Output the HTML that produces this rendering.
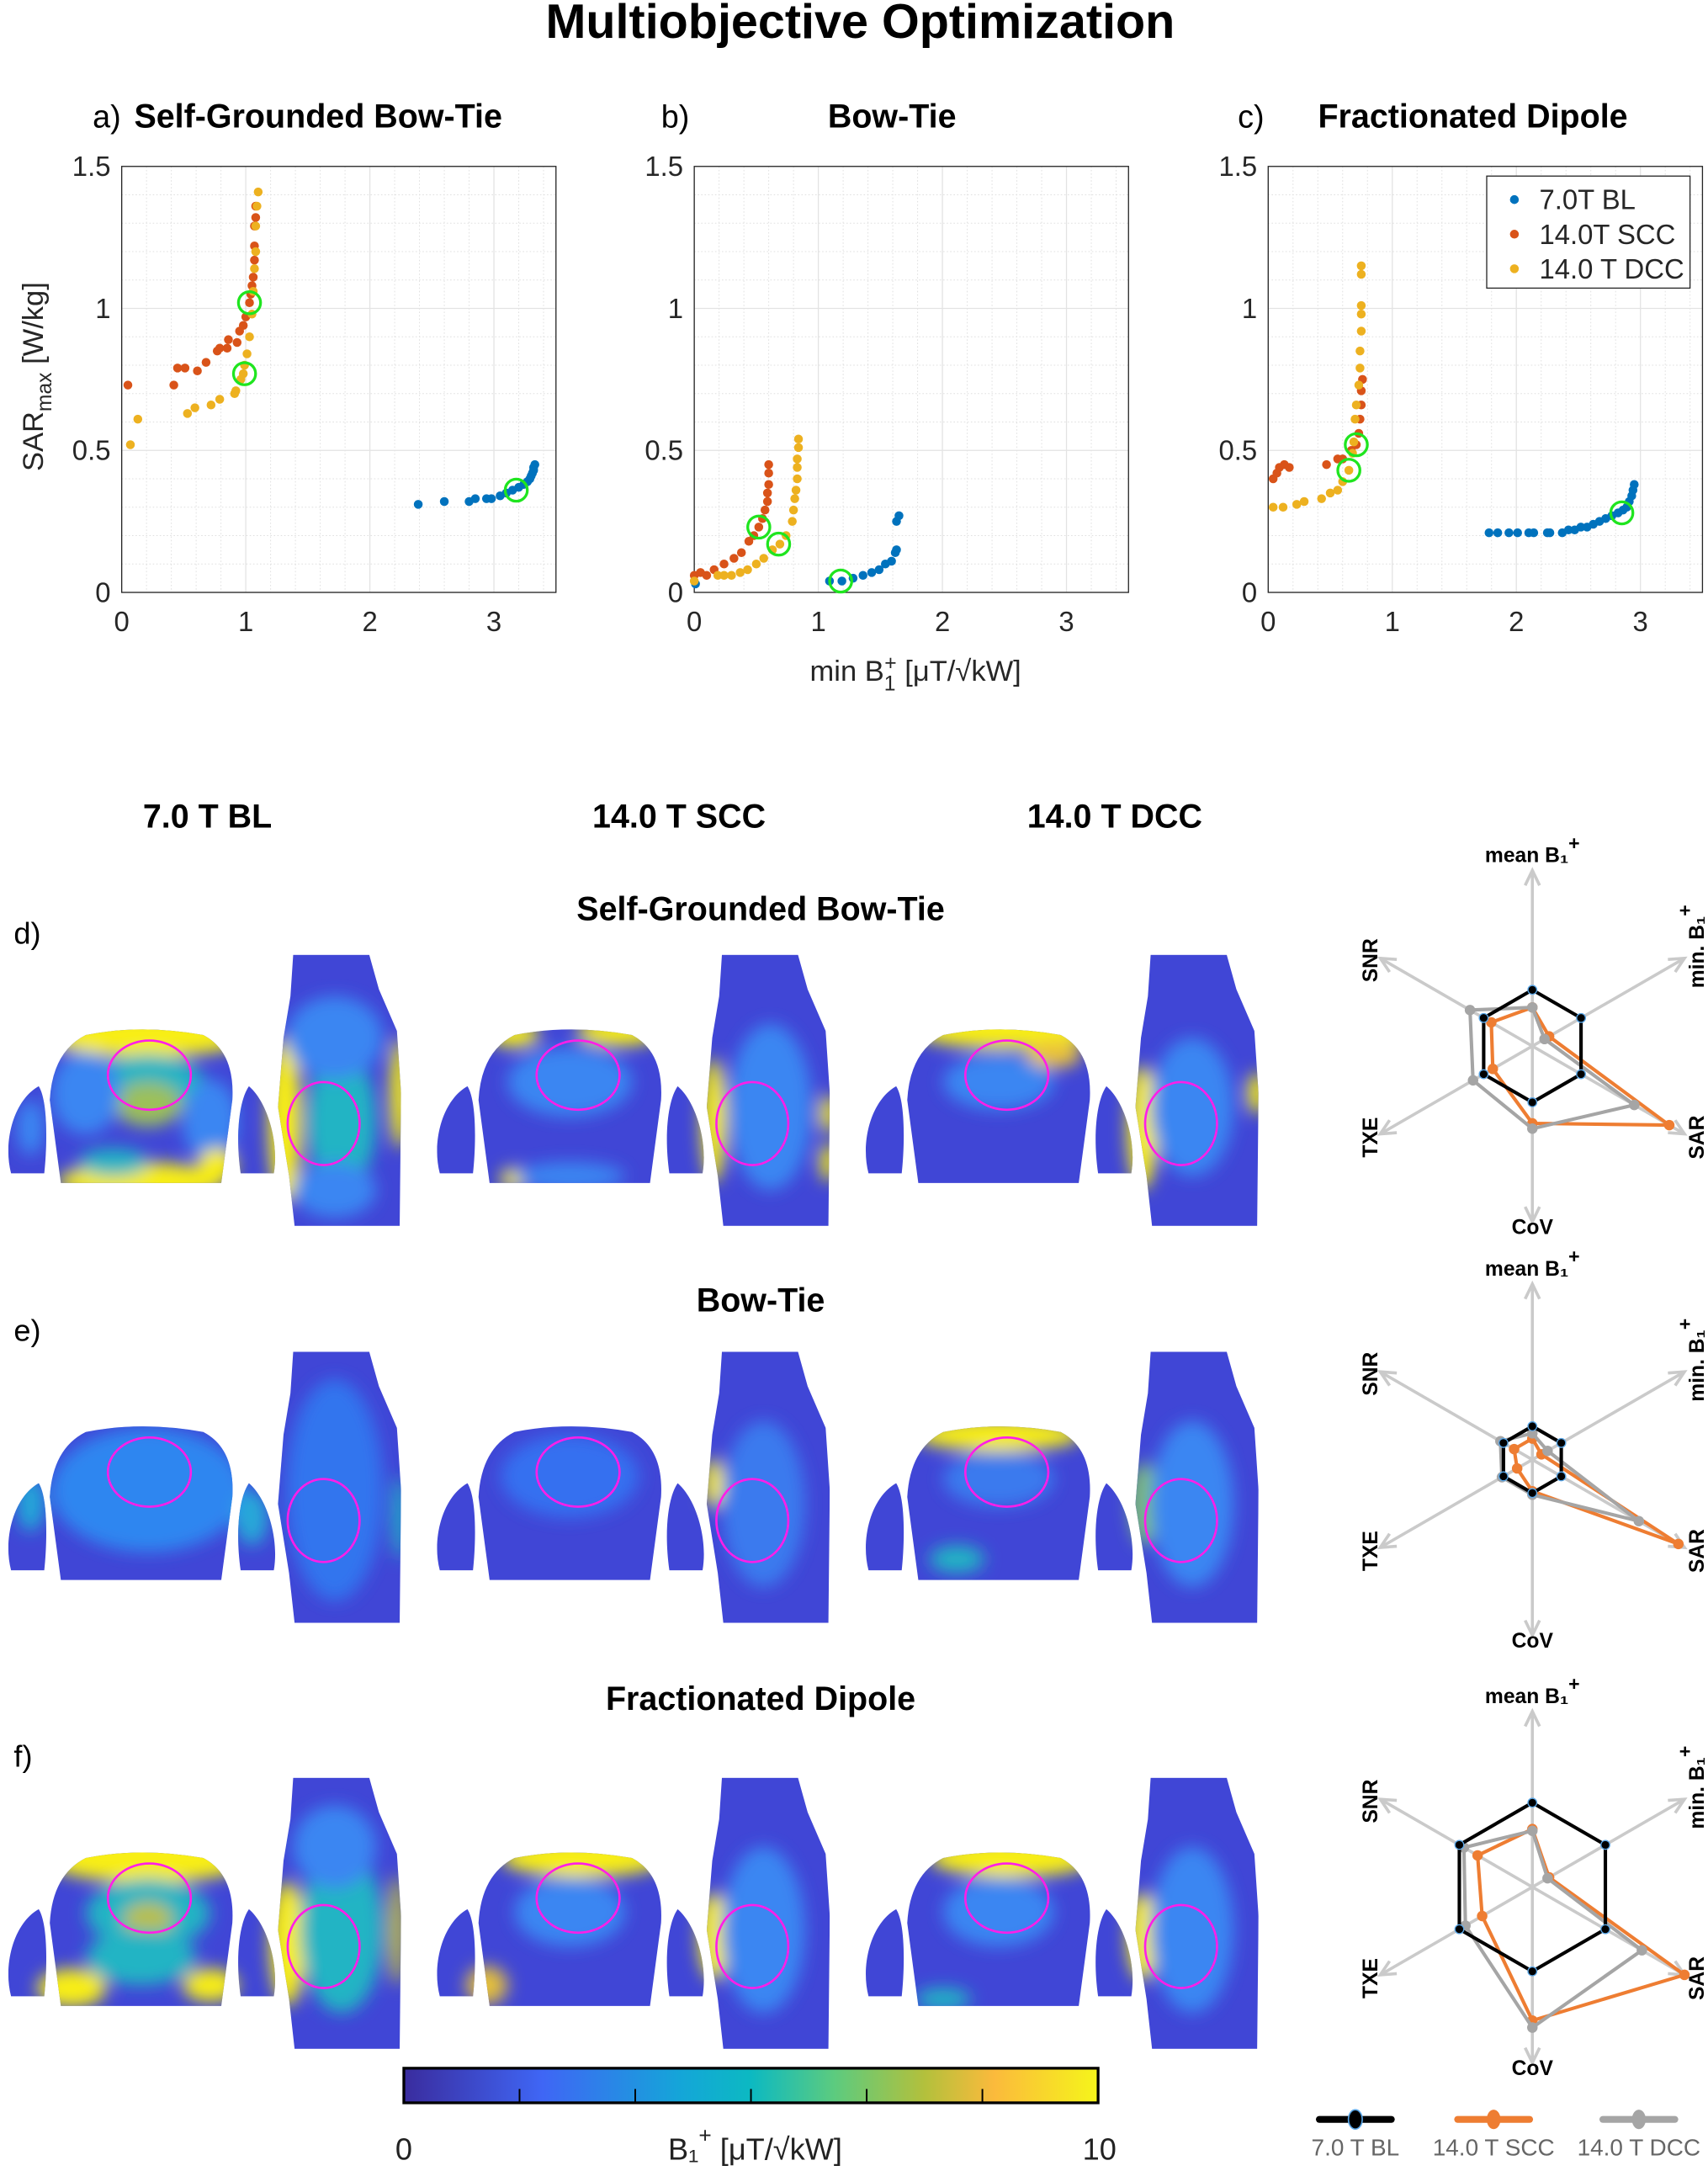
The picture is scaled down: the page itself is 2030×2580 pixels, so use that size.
<!DOCTYPE html>
<html><head><meta charset="utf-8">
<style>
html,body{margin:0;padding:0;background:#fff;}
svg{display:block;font-family:"Liberation Sans",Arial,sans-serif;}
</style></head>
<body>
<svg id="fig" xmlns="http://www.w3.org/2000/svg" width="2030" height="2580" viewBox="0 0 1235 1569">
<defs>
<filter id="blur" x="-20%" y="-20%" width="140%" height="140%"><feGaussianBlur stdDeviation="6"/></filter>
<linearGradient id="parula" x1="0" x2="1" y1="0" y2="0">
<stop offset="0" stop-color="#3a2c9e"/><stop offset="0.2" stop-color="#3f66f5"/><stop offset="0.4" stop-color="#14a6d8"/><stop offset="0.5" stop-color="#0cb9c2"/><stop offset="0.62" stop-color="#5ccb7f"/><stop offset="0.75" stop-color="#b3c03c"/><stop offset="0.85" stop-color="#fbba3c"/><stop offset="1" stop-color="#f5f51a"/>
</linearGradient>
</defs>
<text x="622" y="27" text-anchor="middle" font-size="35" font-weight="bold">Multiobjective Optimization</text>
<g id="scatter"></g>
<g id="maps"></g>
<g id="radars"></g>
</svg>
<script>
var NS="http://www.w3.org/2000/svg";
function mk(tag,attrs,parent){var e=document.createElementNS(NS,tag);for(var k in attrs)e.setAttribute(k,attrs[k]);if(parent)parent.appendChild(e);return e;}

// ---------- scatter data ----------
var xTicks=[0,1,2,3];
var yTicks=[0,0.5,1,1.5];
var yTickLabels=["0","0.5","1","1.5"];
var panelTitles=["Self-Grounded Bow-Tie","Bow-Tie","Fractionated Dipole"];
var panelLetters=["a)","b)","c)"];
var seriesNames=["7.0T BL","14.0T SCC","14.0 T DCC"];
// panel a
var aBLx=[2.39,2.6,2.8,2.85,2.94,2.98,3.05,3.1,3.15,3.2,3.24,3.27,3.29,3.3,3.31,3.32,3.32,3.33];
var aBLy=[0.31,0.32,0.32,0.33,0.33,0.33,0.34,0.35,0.36,0.37,0.38,0.39,0.40,0.41,0.42,0.43,0.44,0.45];
var aSCCx=[0.05,0.42,0.45,0.51,0.61,0.68,0.77,0.79,0.85,0.86,0.93,0.95,0.98,1.0,1.03,1.04,1.05,1.06,1.07,1.07,1.07,1.08,1.08];
var aSCCy=[0.73,0.73,0.79,0.79,0.78,0.81,0.85,0.86,0.86,0.89,0.88,0.92,0.94,0.97,1.02,1.05,1.08,1.11,1.17,1.22,1.29,1.32,1.36];
var aDCCx=[0.07,0.13,0.53,0.59,0.72,0.79,0.91,0.92,0.96,0.98,0.99,1.01,1.03,1.05,1.06,1.07,1.08,1.08,1.09,1.10];
var aDCCy=[0.52,0.61,0.63,0.65,0.66,0.68,0.70,0.71,0.75,0.77,0.80,0.84,0.90,0.98,1.06,1.14,1.20,1.29,1.36,1.41];
var aSelX=[1.03,0.99,3.18];
var aSelY=[1.02,0.77,0.36];
// panel b
var bBLx=[0.01,1.09,1.19,1.28,1.36,1.43,1.49,1.54,1.59,1.62,1.63,1.63,1.65];
var bBLy=[0.03,0.04,0.04,0.05,0.06,0.07,0.08,0.10,0.11,0.14,0.15,0.25,0.27];
var bSCCx=[0,0.05,0.1,0.16,0.24,0.32,0.38,0.44,0.48,0.52,0.55,0.57,0.59,0.59,0.6,0.6,0.6];
var bSCCy=[0.06,0.07,0.06,0.08,0.10,0.12,0.14,0.18,0.20,0.23,0.26,0.29,0.32,0.35,0.38,0.42,0.45];
var bDCCx=[0,0.19,0.24,0.3,0.37,0.43,0.5,0.56,0.63,0.69,0.74,0.79,0.8,0.81,0.82,0.83,0.83,0.83,0.84,0.84];
var bDCCy=[0.04,0.06,0.06,0.06,0.07,0.08,0.10,0.12,0.15,0.17,0.20,0.25,0.29,0.33,0.36,0.40,0.44,0.47,0.51,0.54];
var bSelX=[0.52,0.68,1.18];
var bSelY=[0.23,0.17,0.04];
// panel c
var cBLx=[1.78,1.85,1.94,2.01,2.1,2.14,2.25,2.27,2.37,2.42,2.47,2.52,2.57,2.62,2.67,2.72,2.77,2.82,2.86,2.89,2.91,2.93,2.94,2.95];
var cBLy=[0.21,0.21,0.21,0.21,0.21,0.21,0.21,0.21,0.21,0.22,0.22,0.23,0.23,0.24,0.25,0.26,0.27,0.28,0.29,0.30,0.32,0.34,0.36,0.38];
var cSCCx=[0.04,0.07,0.09,0.13,0.17,0.47,0.56,0.6,0.67,0.71,0.73,0.74,0.75,0.75,0.76];
var cSCCy=[0.40,0.42,0.44,0.45,0.44,0.45,0.47,0.47,0.50,0.52,0.56,0.61,0.66,0.71,0.75];
var cDCCx=[0.04,0.12,0.23,0.29,0.43,0.5,0.56,0.6,0.65,0.68,0.69,0.70,0.71,0.73,0.74,0.74,0.75,0.75,0.75,0.75,0.75];
var cDCCy=[0.30,0.30,0.31,0.32,0.33,0.35,0.36,0.39,0.43,0.49,0.53,0.61,0.66,0.73,0.79,0.85,0.92,0.98,1.01,1.12,1.15];
var cSelX=[0.71,0.65,2.85];
var cSelY=[0.52,0.43,0.28];

var panels=[
 {x0:88,bl:[aBLx,aBLy],scc:[aSCCx,aSCCy],dcc:[aDCCx,aDCCy],sel:[aSelX,aSelY],lx:67,tx:97,anchor:'start'},
 {x0:502,bl:[bBLx,bBLy],scc:[bSCCx,bSCCy],dcc:[bDCCx,bDCCy],sel:[bSelX,bSelY],lx:478,tx:645,anchor:'middle'},
 {x0:917,bl:[cBLx,cBLy],scc:[cSCCx,cSCCy],dcc:[cDCCx,cDCCy],sel:[cSelX,cSelY],lx:895,tx:953,anchor:'start'}
];
var PW=314,PT=120,PB=428,XMAX=3.5,YMAX=1.5;
var colBL="#0072BD",colSCC="#D95319",colDCC="#EDB120";
var sc=document.getElementById('scatter');
panels.forEach(function(p,i){
  function X(v){return p.x0+v/XMAX*PW;}
  function Y(v){return PB-v/YMAX*(PB-PT);}
  var g=mk('g',{},sc);
  
  
  var t=mk('text',{x:p.lx,y:92,'font-size':23},g);
  
  
  t.textContent=panelLetters[i];
  var tb=mk('text',{x:p.tx,y:92,'font-size':24,'font-weight':'bold','text-anchor':p.anchor},g);
  
  
  tb.textContent=panelTitles[i];
  for(var v=0.2;v<XMAX;v+=0.2){ if(Math.abs(v-Math.round(v))<0.01)continue;
    var l=mk('line',{x1:X(v),x2:X(v),y1:PT,y2:PB,stroke:'#e0e0e0','stroke-width':0.6,'stroke-dasharray':'1,1.5'},g);
    }
  for(var v=0.1;v<YMAX;v+=0.1){ if(Math.abs(v*2-Math.round(v*2))<0.01)continue;
    var l=mk('line',{x1:p.x0,x2:p.x0+PW,y1:Y(v),y2:Y(v),stroke:'#e0e0e0','stroke-width':0.6,'stroke-dasharray':'1,1.5'},g);
    }
  xTicks.forEach(function(v){
    var l=mk('line',{x1:X(v),x2:X(v),y1:PT,y2:PB,stroke:'#e3e3e3','stroke-width':0.8},g);
    
    var tk=mk('text',{x:X(v),y:PB+28,'font-size':20,'text-anchor':'middle',fill:'#262626'},g);
    
    tk.textContent=v;
  });
  yTicks.forEach(function(v,k){
    var l=mk('line',{x1:p.x0,x2:p.x0+PW,y1:Y(v),y2:Y(v),stroke:'#e3e3e3','stroke-width':0.8},g);
    
    var tk=mk('text',{x:p.x0-8,y:Y(v)+7,'font-size':20,'text-anchor':'end',fill:'#262626'},g);
    
    tk.textContent=yTickLabels[k];
  });
  var box=mk('rect',{x:p.x0,y:PT,width:PW,height:PB-PT,fill:'none',stroke:'#262626','stroke-width':0.8},g);
  
  [[p.bl,colBL,'series-7T-BL'],[p.scc,colSCC,'series-14T-SCC'],[p.dcc,colDCC,'series-14T-DCC']].forEach(function(s){
    var sg=mk('g',{fill:s[1]},g);
    
    s[0][0].forEach(function(xv,j){
      var c=mk('circle',{cx:X(xv),cy:Y(s[0][1][j]),r:3.2},sg);
      
    });
  });
  p.sel[0].forEach(function(xv,j){
    var c=mk('circle',{cx:X(xv),cy:Y(p.sel[1][j]),r:8,fill:'none',stroke:'#1fe51f','stroke-width':2},g);
    
  });
});
(function(){
  var yl=mk('text',{transform:'translate(31,272) rotate(-90)','font-size':21,'text-anchor':'middle',fill:'#262626'},sc);
  
  yl.innerHTML='SAR<tspan font-size="15" dy="6">max</tspan><tspan dy="-6"> [W/kg]</tspan>';
  var xl=mk('text',{x:662,y:492,'font-size':21,'text-anchor':'middle',fill:'#262626'},sc);
  
  xl.innerHTML='min B<tspan font-size="15" dy="7">1</tspan><tspan font-size="15" dx="-8" dy="-15">+</tspan><tspan dy="8"> [μT/√kW]</tspan>';
  var lg=mk('g',{},sc);
  
  mk('rect',{x:1075,y:127,width:147,height:81,fill:'#fff',stroke:'#262626','stroke-width':0.8},lg);
  [colBL,colSCC,colDCC].forEach(function(c,k){
    var e=mk('g',{},lg);
    
    mk('circle',{cx:1095,cy:144+k*25,r:3.2,fill:c},e);
    var t=mk('text',{x:1113,y:151+k*25,'font-size':20,fill:'#262626'},e);
    t.textContent=seriesNames[k];
  });
})();

// ---------- B1 maps ----------
var Y_='#f8ee12',C_='#22b4c4',L_='#3a86f2',G_='#9cc05a';
var colLabels=["7.0 T BL","14.0 T SCC","14.0 T DCC"];
var colLabelX=[150,491,806];
var rowTitles=["Self-Grounded Bow-Tie","Bow-Tie","Fractionated Dipole"];
var rowLetters=["d)","e)","f)"];
var rowY=[690,977,1285];
var rowTitleY=[665,948,1236];
var groupX=[0,310,620];
var blobs=[
 [[[105,58,75,16,Y_],[105,92,40,20,C_],[105,108,25,16,G_],[60,100,25,30,L_],[150,120,20,30,L_],[100,164,60,14,Y_],[80,150,25,10,C_],[155,152,14,12,Y_],[20,125,10,20,L_],[204,120,12,60,Y_],[245,120,25,50,C_],[240,60,35,30,L_],[287,100,7,40,Y_],[240,170,30,20,L_]],
  [[135,56,30,10,Y_],[60,58,18,9,Y_],[100,92,45,25,L_],[60,162,10,8,Y_],[100,160,40,10,L_],[204,120,9,45,Y_],[245,110,30,60,L_],[287,115,6,14,Y_],[287,150,6,14,Y_]],
  [[105,55,65,13,Y_],[100,92,40,20,L_],[140,72,20,10,'#e9c13a'],[204,125,11,45,Y_],[240,110,30,50,L_],[287,100,7,15,Y_]]],
 [[[105,100,70,45,'#2f86f0'],[20,110,10,20,'#22a9d8'],[180,120,12,20,'#25a9d8'],[240,100,35,80,'#3375ee'],[287,120,5,30,C_]],
  [[100,90,50,30,'#3470f0'],[204,95,7,18,Y_],[240,110,30,60,'#3a7aee']],
  [[100,60,60,12,Y_],[100,92,40,20,'#3a7aee'],[70,150,20,10,C_],[205,110,10,30,'#7fbf70'],[240,110,30,60,L_]]],
 [[[105,58,75,18,Y_],[105,98,45,25,C_],[105,102,18,12,'#b9c04a'],[50,152,25,14,Y_],[150,150,20,12,Y_],[100,130,40,20,C_],[206,120,13,45,Y_],[245,110,30,60,C_],[240,50,30,30,L_],[285,110,6,40,'#c0c040']],
  [[110,58,60,14,Y_],[100,97,40,25,L_],[40,150,15,14,'#e4bf3a'],[204,115,11,32,Y_],[240,110,30,60,L_]],
  [[110,58,60,14,Y_],[100,97,40,25,L_],[60,160,20,8,C_],[204,115,11,32,Y_],[240,110,30,60,L_]]]
];
var mp=document.getElementById('maps');
colLabels.forEach(function(t,k){
  var e=mk('text',{x:colLabelX[k],y:598,'font-size':24,'font-weight':'bold','text-anchor':'middle'},mp);
  
  e.textContent=t;
});
var shapeAx='M42,165 L34,105 Q36,70 60,58 Q100,50 145,58 Q168,70 166,105 L158,165 Z';
var shapeL='M6,158 C0,135 8,105 26,95 C33,106 32,140 30,158 Z';
var shapeR='M172,158 C168,130 171,105 178,95 C191,106 200,135 196,158 Z';
var shapeSag='M210,0 L265,0 L272,25 L285,55 L288,100 L287,196 L211,196 L207,160 L199,110 L203,60 L208,30 Z';
rowY.forEach(function(ry,r){
  var tt=mk('text',{x:550,y:rowTitleY[r],'font-size':24,'font-weight':'bold','text-anchor':'middle'},mp);
  
  tt.textContent=rowTitles[r];
  var lt=mk('text',{x:10,y:ry-8,'font-size':22},mp);
  
  lt.textContent=rowLetters[r];
  groupX.forEach(function(gx,c){
    var id='clip'+r+'_'+c;
    var cp=mk('clipPath',{id:id},mp);
    mk('path',{d:shapeAx},cp);
    mk('path',{d:shapeL},cp);
    mk('path',{d:shapeR},cp);
    mk('path',{d:shapeSag},cp);
    var g=mk('g',{transform:'translate('+(2+gx)+','+ry+')'},mp);
    
    
    var cg=mk('g',{'clip-path':'url(#'+id+')'},g);
    mk('rect',{x:0,y:0,width:290,height:200,fill:'#4046d6'},cg);
    var bg=mk('g',{filter:'url(#blur)'},cg);
    blobs[r][c].forEach(function(b){mk('ellipse',{cx:b[0],cy:b[1],rx:b[2],ry:b[3],fill:b[4]},bg);});
    var o1=mk('ellipse',{cx:106,cy:87,rx:30,ry:25,fill:'none',stroke:'#ff1ee8','stroke-width':1.6},g);
    
    var o2=mk('ellipse',{cx:232,cy:122,rx:26,ry:30,fill:'none',stroke:'#ff1ee8','stroke-width':1.6},g);
    
  });
});
(function(){
  var cb=mk('g',{},mp);
  
  mk('rect',{x:292,y:1495,width:502,height:25,fill:'url(#parula)',stroke:'#000','stroke-width':2},cb);
  var cbTicks=[10/6,20/6,30/6,40/6,50/6];
  cbTicks.forEach(function(v){var x=292+v/10*502;mk('line',{x1:x,x2:x,y1:1510,y2:1520,stroke:'#000','stroke-width':1.2},cb);});
  var t0=mk('text',{x:292,y:1561,'font-size':22,'text-anchor':'middle',fill:'#222'},cb);t0.textContent='0';
  var t1=mk('text',{x:795,y:1561,'font-size':22,'text-anchor':'middle',fill:'#222'},cb);t1.textContent='10';
  var tl=mk('text',{x:546,y:1561,'font-size':22,'text-anchor':'middle',fill:'#222'},cb);
  
  tl.innerHTML='B₁<tspan font-size="16" dy="-12">+</tspan><tspan dy="12"> [μT/√kW]</tspan>';
})();

// ---------- radar charts ----------
var radarAxes=["mean B1+","min. B1+","SAR","CoV","TXE","SNR"];
var radarCenterY=[756,1055,1364];
var dBL=[0.32,0.32,0.32,0.32,0.32,0.32];
var dSCC=[0.22,0.11,0.90,0.44,0.26,0.27];
var dDCC=[0.22,0.08,0.67,0.47,0.39,0.41];
var eBL=[0.19,0.19,0.19,0.19,0.19,0.19];
var eSCC=[0.12,0.06,0.96,0.18,0.10,0.12];
var eDCC=[0.15,0.10,0.70,0.20,0.20,0.21];
var fBL=[0.48,0.48,0.48,0.48,0.48,0.48];
var fSCC=[0.33,0.11,1.0,0.76,0.33,0.36];
var fDCC=[0.32,0.10,0.72,0.80,0.44,0.45];
var radarData=[[dBL,dSCC,dDCC],[eBL,eSCC,eDCC],[fBL,fSCC,fDCC]];
var RCX=1108,RL=127;
var angles=[-90,-30,30,90,150,210];
var rd=document.getElementById('radars');
radarCenterY.forEach(function(cy,r){
  var g=mk('g',{},rd);
  
  
  function P(a,v){var t=angles[a]*Math.PI/180;return [RCX+Math.cos(t)*v*RL,cy+Math.sin(t)*v*RL];}
  angles.forEach(function(a,k){
    var e=P(k,1.0),t=a*Math.PI/180;
    var ax=mk('line',{x1:RCX,y1:cy,x2:e[0],y2:e[1],stroke:'#cacaca','stroke-width':2.2},g);
    
    var h1=t+Math.PI-0.45,h2=t+Math.PI+0.45;
    mk('polyline',{points:(e[0]+Math.cos(h1)*12)+','+(e[1]+Math.sin(h1)*12)+' '+e[0]+','+e[1]+' '+(e[0]+Math.cos(h2)*12)+','+(e[1]+Math.sin(h2)*12),fill:'none',stroke:'#cacaca','stroke-width':2.2},g);
  });
  var labs=[[0,-133,0,'mean B₁'],[118,-72,-90,'min. B₁'],[118,66,-90,'SAR'],[0,136,0,'CoV'],[-118,66,-90,'TXE'],[-118,-62,-90,'SNR']];
  labs.forEach(function(L,k){
    var t=mk('text',{transform:'translate('+(RCX+L[0]+(L[2]?6:0))+','+(cy+L[1])+') rotate('+L[2]+')','font-size':15,'font-weight':'bold','text-anchor':'middle'},g);
    
    t.innerHTML=L[3]+(k<2?'<tspan font-size="14" dy="-9">+</tspan>':'');
  });
  var cols=['#000','#ee7d32','#a5a5a5'];
  [1,2,0].forEach(function(s){
    var vals=radarData[r][s];
    var pts=vals.map(function(v,k){return P(k,v).join(',');});
    var pg=mk('g',{},g);
    
    
    mk('polygon',{points:pts.join(' '),fill:'none',stroke:cols[s],'stroke-width':2.5,'stroke-linejoin':'round'},pg);
    vals.forEach(function(v,k){var q=P(k,v);mk('circle',{cx:q[0],cy:q[1],r:s==0?3.2:3.8,fill:cols[s],stroke:s==0?'#5aa7e8':'none','stroke-width':0.8},pg);});
  });
});
(function(){
  var lg=mk('g',{},rd);
  
  var lx=[980,1080,1185],cols=['#000','#ee7d32','#a5a5a5'],names=["7.0 T BL","14.0 T SCC","14.0 T DCC"];
  lx.forEach(function(x,k){
    var e=mk('g',{},lg);
    
    mk('line',{x1:x-26,x2:x+26,y1:1532,y2:1532,stroke:cols[k],'stroke-width':5,'stroke-linecap':'round'},e);
    mk('ellipse',{cx:x,cy:1532,rx:5,ry:7,fill:cols[k],stroke:k==0?'#5aa7e8':'none','stroke-width':1},e);
    var t=mk('text',{x:x,y:1558,'font-size':17,'text-anchor':'middle',fill:'#666'},e);
    t.textContent=names[k];
  });
})();
</script>
</body></html>
